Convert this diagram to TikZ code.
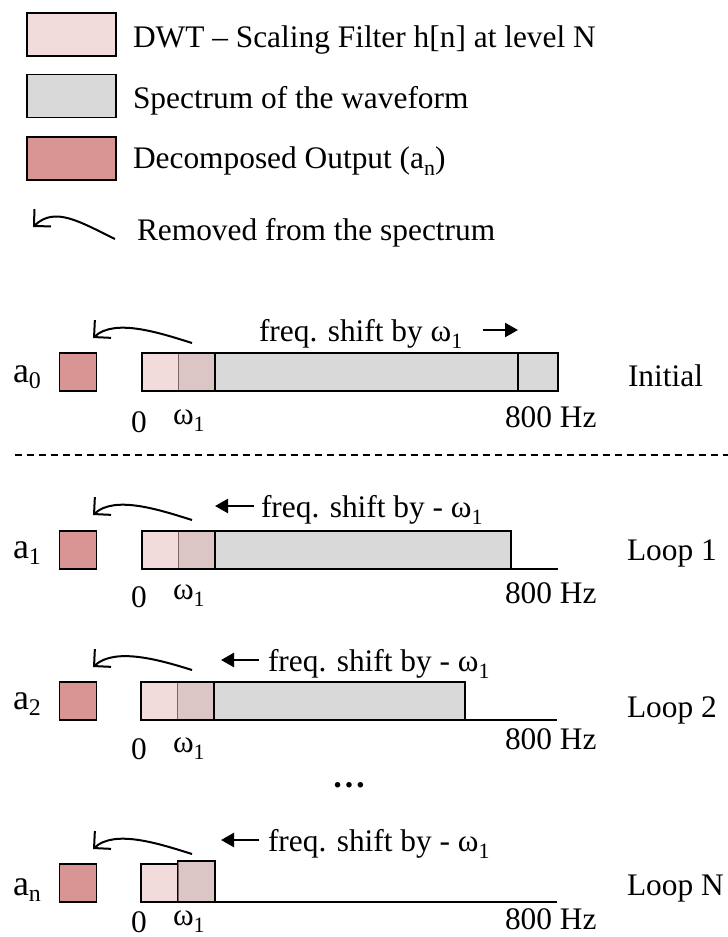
\documentclass[tikz,border=0pt]{standalone}
\usepackage{fontspec}
\setmainfont{Liberation Serif}
\usetikzlibrary{arrows.meta}
\definecolor{lpink}{HTML}{F2DCDB}
\definecolor{mpink}{HTML}{DCC5C5}
\definecolor{dpink}{HTML}{D99594}
\definecolor{specgray}{HTML}{D9D9D9}
\definecolor{divline}{HTML}{7F6262}
\newcommand\sbs[1]{\raisebox{-0.25em}{\fontsize{22}{24}\selectfont #1}}
\newcommand\asub[1]{{\fontsize{36}{40}\selectfont a}\raisebox{-0.2em}{\fontsize{24}{26}\selectfont #1}}
\tikzset{
  txt/.style={font=\fontsize{31.5}{36}\selectfont, inner sep=0pt, outer sep=0pt},
  legbox/.style={draw=black, line width=1.5bp, minimum width=89bp, minimum height=43bp, inner sep=0pt},
  outbox/.style={draw=black, line width=1.5bp, fill=dpink, minimum width=37bp, minimum height=38bp, inner sep=0pt},
  removed/.style={-{Straight Barb[length=12bp,width=24bp]}, line width=2bp},
  shiftarrow/.style={-{Triangle[length=13bp,width=14bp]}, line width=2.4bp},
  barline/.style={line width=1.5bp},
  thinsep/.style={draw=divline, line width=1bp},
}
\begin{document}
\begin{tikzpicture}[x=1bp,y=-1bp]
\useasboundingbox (0,0) rectangle (728,937);

% ---------------- legend ----------------
\node[legbox, fill=lpink]    (lg1) at (71.5,34.5)  {};
\node[legbox, fill=specgray] (lg2) at (71.5,96)    {};
\node[legbox, fill=dpink]    (lg3) at (71.5,158.5) {};
\node[txt, anchor=base west] (lt1) at (133,47)  {DWT – Scaling Filter h[n] at level N};
\node[txt, anchor=base west] (lt2) at (133,108) {Spectrum of the waveform};
\node[txt, anchor=base west] (lt3) at (133,168) {Decomposed Output (a\sbs{n})};
\node[txt, anchor=base west] (lt4) at (137,240) {Removed from the spectrum};
\coordinate (lrs) at (115,239);
\coordinate (lre) at (33,227);
\draw[removed] (lrs) .. controls (80,222) and (55,206) .. (lre);

% ---------------- Initial ----------------
\node[outbox] (o0) at (78,372) {};
\node[txt, anchor=base] (a0) at (27,382) {\asub{0}};
\fill[lpink] (142,353) rectangle (178,391);
\fill[mpink] (178,353) rectangle (215,391);
\fill[specgray] (215,353) rectangle (558,391);
\draw[thinsep] (178,353) -- (178,391);
\draw[barline] (142,353) rectangle (558,391);
\draw[barline] (215,353) -- (215,391) (518,353) -- (518,391);
\draw[line width=2.2bp] (142,391) -- (558,391);
\node[txt, anchor=base] (z0) at (139,432) {0};
\node[txt, anchor=base west] (w0) at (173,424) {ω\sbs{1}};
\node[txt, anchor=base west] (h0) at (505,427) {800 Hz};
\node[txt, anchor=base west] (r0) at (628,386) {Initial};
\node[txt, anchor=base west] (f0) at (259,341) {freq. shift by ω\sbs{1}};
\coordinate (f0s) at (483,330);
\coordinate (f0e) at (518,330);
\draw[shiftarrow] (f0s) -- (f0e);
\coordinate (c0s) at (192,343);
\coordinate (c0e) at (93,338);
\draw[removed] (c0s) .. controls (160,333) and (115,318) .. (c0e);

% dashed separator
\coordinate (dl) at (15,455);
\coordinate (dr) at (728,455);
\draw[line width=1.2bp, dash pattern=on 7bp off 5bp] (dl) -- (dr);

% ---------------- Loop 1 ----------------
\node[outbox] (o1) at (78,550) {};
\node[txt, anchor=base] (a1) at (27,558) {\asub{1}};
\fill[lpink] (142,531) rectangle (178,569);
\fill[mpink] (178,531) rectangle (215,569);
\fill[specgray] (215,531) rectangle (511,569);
\draw[thinsep] (178,531) -- (178,569);
\draw[barline] (142,531) rectangle (511,569);
\draw[barline] (215,531) -- (215,569);
\draw[line width=2bp] (142,569) -- (511,569);
\draw[barline] (511,569) -- (558,569);
\node[txt, anchor=base] (z1) at (139,607) {0};
\node[txt, anchor=base west] (w1) at (173,599) {ω\sbs{1}};
\node[txt, anchor=base west] (h1) at (505,603) {800 Hz};
\node[txt, anchor=base west] (r1) at (627,560) {Loop 1};
\node[txt, anchor=base west] (f1) at (261,517) {freq. shift by - ω\sbs{1}};
\coordinate (f1s) at (254,506);
\coordinate (f1e) at (215,506);
\draw[shiftarrow] (f1s) -- (f1e);
\coordinate (c1s) at (192,520);
\coordinate (c1e) at (93,515);
\draw[removed] (c1s) .. controls (160,510) and (115,495) .. (c1e);

% ---------------- Loop 2 ----------------
\node[outbox] (o2) at (78,701) {};
\node[txt, anchor=base] (a2) at (27,709) {\asub{2}};
\fill[lpink] (141,682) rectangle (177,720);
\fill[mpink] (177,682) rectangle (214,720);
\fill[specgray] (214,682) rectangle (465,720);
\draw[thinsep] (177,682) -- (177,720);
\draw[barline] (141,682) rectangle (465,720);
\draw[barline] (214,682) -- (214,720);
\draw[line width=2bp] (141,720) -- (465,720);
\draw[barline] (465,720) -- (557,720);
\node[txt, anchor=base] (z2) at (139,759) {0};
\node[txt, anchor=base west] (w2) at (173,752) {ω\sbs{1}};
\node[txt, anchor=base west] (h2) at (505,749) {800 Hz};
\node[txt, anchor=base west] (r2) at (627,717) {Loop 2};
\node[txt, anchor=base west] (f2) at (268,671) {freq. shift by - ω\sbs{1}};
\coordinate (f2s) at (259,660);
\coordinate (f2e) at (221,660);
\draw[shiftarrow] (f2s) -- (f2e);
\coordinate (c2s) at (192,670);
\coordinate (c2e) at (93,667);
\draw[removed] (c2s) .. controls (160,660) and (115,647) .. (c2e);

% dots
\node[txt, font=\fontsize{34}{36}\selectfont\bfseries] (dots) at (349,785) {…};

% ---------------- Loop N ----------------
\node[outbox] (on) at (78,883) {};
\node[txt, anchor=base] (an) at (27,895) {\asub{n}};
\draw[barline, fill=lpink] (141,864) rectangle (178,902);
\draw[barline, fill=mpink] (178,861) rectangle (215,902);
\draw[thinsep] (178,862) -- (178,901);
\draw[barline] (215,902) -- (557,902);
\node[txt, anchor=base] (zn) at (139,932) {0};
\node[txt, anchor=base west] (wn) at (173,925) {ω\sbs{1}};
\node[txt, anchor=base west] (hn) at (505,929) {800 Hz};
\node[txt, anchor=base west] (rn) at (627,895) {Loop N};
\node[txt, anchor=base west] (fn) at (268,851) {freq. shift by - ω\sbs{1}};
\coordinate (fns) at (259,840);
\coordinate (fne) at (221,840);
\draw[shiftarrow] (fns) -- (fne);
\coordinate (cns) at (192,854);
\coordinate (cne) at (93,849);
\draw[removed] (cns) .. controls (160,844) and (115,829) .. (cne);
\end{tikzpicture}
\end{document}
